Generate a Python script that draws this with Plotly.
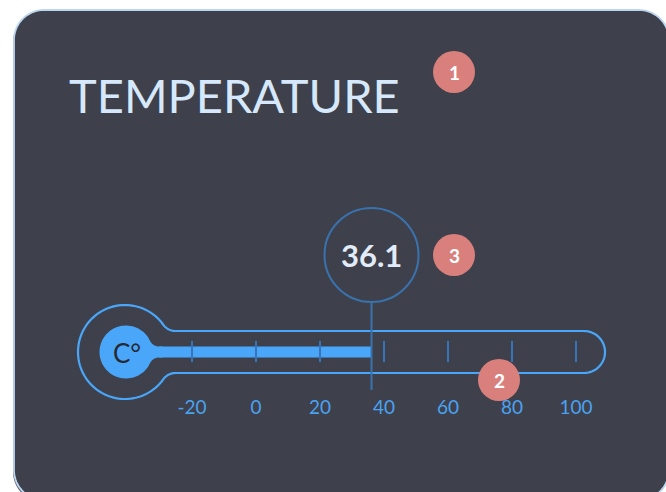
import numpy as np
import plotly.graph_objects as go

# ---------------- data ----------------
TITLE = "TEMPERATURE"
UNIT = "C°"
VALUE = 36.1
VALUE_LABEL = "36.1"
TICK_VALUES = [-20, 0, 20, 40, 60, 80, 100]
TICK_LABELS = ["-20", "0", "20", "40", "60", "80", "100"]
SCALE_MIN = -20
SCALE_MAX = 100
BADGE_LABELS = ["1", "2", "3"]

# ---------------- styling / geometry ----------------
W, H = 666, 492
OFF = 0
CARD = "#3e404c"
BORDER = "#bdd6ef"
BLUE = "#4aa6f8"
DARK_BLUE = "#3a72ad"
TICK_BLUE = "#3875b8"
TITLE_COL = "#d6e8fb"
BADGE_COL = "#d9807d"
LABEL_COL = "#4aa3f0"

PX_MIN, PX_MAX = 192.0, 576.0          # screen pixel positions of SCALE_MIN / SCALE_MAX
K = (PX_MAX - PX_MIN) / (SCALE_MAX - SCALE_MIN)


def px_to_val(px):
    return SCALE_MIN + (px - PX_MIN) / K


R0 = px_to_val(OFF)
R1 = px_to_val(OFF + W)


def arc(cx, cy, r, a0, a1, n=40):
    t = np.linspace(a0, a1, n)
    return list(zip(cx + r * np.cos(t), cy + r * np.sin(t)))


def path_from(pts, close=True):
    s = "M " + " L ".join(f"{x:.2f},{y:.2f}" for x, y in pts)
    return s + (" Z" if close else "")


def thermo_outline(bx, cy, R, h, rf, x_right):
    dx = np.sqrt((R + rf) ** 2 - (h + rf) ** 2)
    fx = bx + dx
    pts = [(fx, cy - h), (x_right, cy - h)]
    pts += arc(x_right, cy, h, -np.pi / 2, np.pi / 2)
    pts += [(fx, cy + h)]
    a_end = np.arctan2(-(h + rf), -dx)
    pts += arc(fx, cy + h + rf, rf, -np.pi / 2, a_end, 20)
    a2 = np.arctan2(h + rf, dx)
    pts += arc(bx, cy, R, a2, 2 * np.pi - a2, 80)
    a_start = np.arctan2(h + rf, -dx)
    pts += arc(fx, cy - h - rf, rf, a_start, np.pi / 2, 20)
    return pts, fx


def bulb_fill(bx, cy, R, h, rf, extend):
    dx = np.sqrt((R + rf) ** 2 - (h + rf) ** 2)
    fx = bx + dx
    pts = [(fx, cy - h), (fx + extend, cy - h), (fx + extend, cy + h), (fx, cy + h)]
    a_end = np.arctan2(-(h + rf), -dx)
    pts += arc(fx, cy + h + rf, rf, -np.pi / 2, a_end, 20)
    a2 = np.arctan2(h + rf, dx)
    pts += arc(bx, cy, R, a2, 2 * np.pi - a2, 80)
    a_start = np.arctan2(h + rf, -dx)
    pts += arc(fx, cy - h - rf, rf, a_start, np.pi / 2, 20)
    return pts, fx


def rounded_rect(x0, y0, x1, y1, r):
    pts = []
    pts += arc(x0 + r, y0 + r, r, np.pi, 1.5 * np.pi, 20)
    pts += arc(x1 - r, y0 + r, r, 1.5 * np.pi, 2 * np.pi, 20)
    pts += arc(x1 - r, y1 - r, r, 0, 0.5 * np.pi, 20)
    pts += arc(x0 + r, y1 - r, r, 0.5 * np.pi, np.pi, 20)
    return pts


CY = 352
outline_pts, _ = thermo_outline(125, CY, 47, 21, 15, 584)
inner_pts, neck_x = bulb_fill(126, CY, 26.5, 5.5, 10, 4)
BAR_BASE = px_to_val(neck_x)

shapes = []
# card shadow + card
shapes.append(dict(type="path", path=path_from(rounded_rect(13, 12, 668, 502, 30)),
                   xref="x", yref="y", fillcolor="#6a6c76", line=dict(width=0), layer="below"))
shapes.append(dict(type="path", path=path_from(rounded_rect(14, 10, 669, 500, 30)),
                   xref="x", yref="y", fillcolor=CARD, line=dict(color=BORDER, width=1.8),
                   layer="below"))
# thermometer outline
shapes.append(dict(type="path", path=path_from(outline_pts), xref="x", yref="y",
                   line=dict(color=BLUE, width=2.2), layer="above"))
# bulb fill
shapes.append(dict(type="path", path=path_from(inner_pts), xref="x", yref="y",
                   fillcolor=BLUE, line=dict(width=0), layer="above"))
# tick marks
for v in TICK_VALUES:
    shapes.append(dict(type="line", xref="x2", yref="y", x0=v, x1=v, y0=341, y1=362,
                       line=dict(color=TICK_BLUE, width=2), layer="above"))
# value marker
shapes.append(dict(type="line", xref="x2", yref="y", x0=VALUE, x1=VALUE, y0=302, y1=390,
                   line=dict(color=DARK_BLUE, width=2), layer="above"))
shapes.append(dict(type="circle", xref="x2", yref="y", xsizemode="pixel", xanchor=VALUE,
                   x0=-47, x1=47, y0=208, y1=302,
                   line=dict(color=DARK_BLUE, width=2), layer="above"))
# badges
BADGE_POS = [(454, 72), (499, 380), (454, 255)]
for (bx, by) in BADGE_POS:
    shapes.append(dict(type="circle", xref="x", yref="y", x0=bx - 21, x1=bx + 21,
                       y0=by - 21, y1=by + 21, fillcolor=BADGE_COL, line=dict(width=0),
                       layer="above"))

fig = go.Figure()
fig.add_trace(go.Bar(orientation="h", x=[VALUE - BAR_BASE], base=[BAR_BASE], y=[CY],
                     width=11, marker=dict(color=BLUE, line=dict(width=0)),
                     xaxis="x2", yaxis="y", hoverinfo="skip"))
fig.add_trace(go.Scatter(x=TICK_VALUES, y=[409] * len(TICK_VALUES), mode="text",
                         text=TICK_LABELS,
                         textfont=dict(family="Lato", size=19, color=LABEL_COL),
                         xaxis="x2", yaxis="y", hoverinfo="skip"))

annotations = [
    dict(x=67, y=95, xref="x", yref="y", text=TITLE, showarrow=False, xanchor="left",
         yanchor="middle", font=dict(family="Lato", size=47, color=TITLE_COL)),
    dict(x=VALUE, y=255, xref="x2", yref="y", text=f"<b>{VALUE_LABEL}</b>", showarrow=False,
         xanchor="center", yanchor="middle",
         font=dict(family="Lato", size=31, color="#e2ecf8")),
    dict(x=127, y=353, xref="x", yref="y", text=UNIT, showarrow=False,
         xanchor="center", yanchor="middle",
         font=dict(family="Lato", size=26, color="#262833")),
]
for (bx, by), lab in zip(BADGE_POS, BADGE_LABELS):
    annotations.append(dict(x=bx, y=by, xref="x", yref="y", text=f"<b>{lab}</b>",
                            showarrow=False, xanchor="center", yanchor="middle",
                            font=dict(family="Lato", size=19, color="white")))

fig.update_layout(
    width=W, height=H, margin=dict(l=0, r=0, t=0, b=0),
    paper_bgcolor="white", plot_bgcolor="rgba(0,0,0,0)",
    showlegend=False, hovermode=False,
    xaxis=dict(range=[OFF, OFF + W], visible=False, fixedrange=True),
    xaxis2=dict(range=[R0, R1], visible=False, overlaying="x", anchor="y", fixedrange=True),
    yaxis=dict(range=[OFF + H, OFF], visible=False, fixedrange=True),
    shapes=shapes, annotations=annotations,
)

fig.write_html(
    "out.html",
    config={"displayModeBar": False},
    post_script="document.body.style.margin='0';document.body.style.overflow='hidden';",
)
